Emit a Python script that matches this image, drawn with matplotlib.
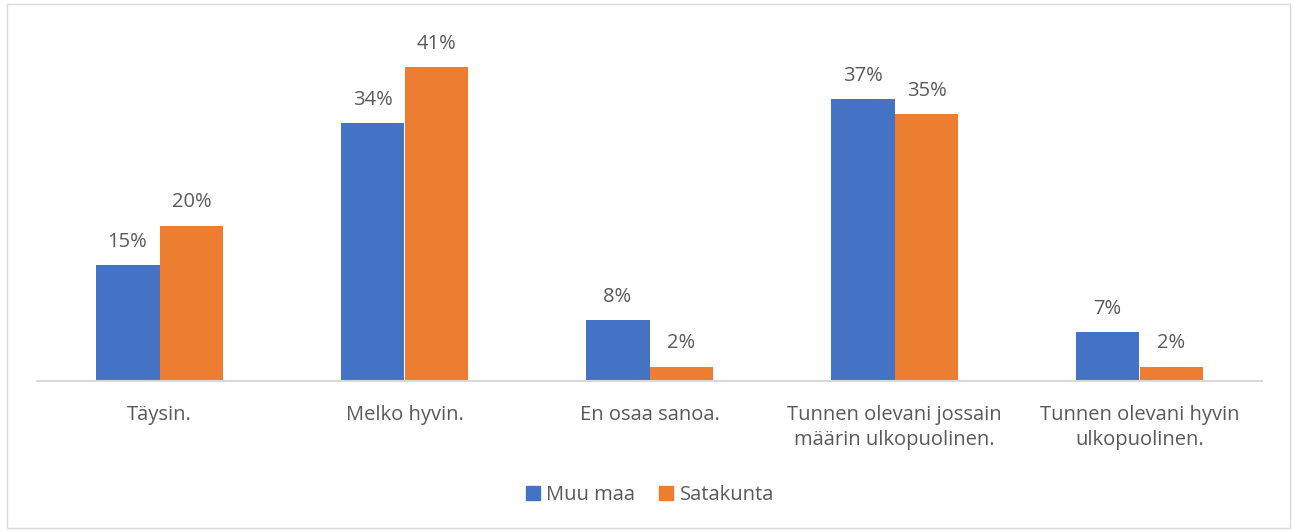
import numpy as np
import matplotlib
matplotlib.use('Agg')
from matplotlib import pyplot as plt
from matplotlib.patches import Rectangle, Patch

plt.rcParams['font.family'] = ['Open Sans', 'DejaVu Sans']

# data
categories = ['Täysin.', 'Melko hyvin.', 'En osaa sanoa.',
              'Tunnen olevani jossain\nmäärin ulkopuolinen.',
              'Tunnen olevani hyvin\nulkopuolinen.']
muu_maa = [15.2, 33.8, 8.0, 37.0, 6.4]
satakunta = [20.4, 41.2, 1.9, 35.0, 1.9]
muu_labels = ['15%', '34%', '8%', '37%', '7%']
sata_labels = ['20%', '41%', '2%', '35%', '2%']
series_names = ['Muu maa', 'Satakunta']

blue = '#4472C4'
orange = '#ED7D31'
text_col = '#595959'
fs = 14.5

W, H = 1293, 532
fig = plt.figure(figsize=(W / 100, H / 100), dpi=100)

# kehys
fig.patches.append(Rectangle((7 / W, 4 / H), 1283 / W, 524 / H, transform=fig.transFigure,
                             fill=False, edgecolor='#d9d9d9', linewidth=1))

ax = fig.add_axes([37 / W, (H - 381) / H, (1262 - 37) / W, (381 - 38) / H])

x = np.arange(len(categories))
bw = 0.261
b1 = ax.bar(x - bw / 2, muu_maa, bw, color=blue, label=series_names[0])
b2 = ax.bar(x + bw / 2, satakunta, bw, color=orange, label=series_names[1])

for bars, labs in [(b1, muu_labels), (b2, sata_labels)]:
    for b, lab in zip(bars, labs):
        ax.annotate(lab, (b.get_x() + b.get_width() / 2, b.get_height()),
                    xytext=(0, 13), textcoords='offset points', ha='center', va='baseline',
                    fontsize=fs, color=text_col, clip_on=False)

ax.set_xlim(-0.5, len(categories) - 0.5)
ax.set_ylim(0, 45)
ax.set_yticks([])
ax.set_xticks(x)
ax.set_xticklabels(categories, fontsize=fs, color=text_col, linespacing=1.35)
ax.tick_params(axis='x', length=0, pad=17)
for s in ['top', 'right', 'left']:
    ax.spines[s].set_visible(False)
ax.spines['bottom'].set_color('#d9d9d9')
ax.spines['bottom'].set_linewidth(1.5)

handles = [Patch(color=blue), Patch(color=orange)]
fig.legend(handles, series_names, loc='center', bbox_to_anchor=(650 / W, (H - 495) / H),
           ncol=2, frameon=False, fontsize=fs, handlelength=0.7, handleheight=0.7,
           handletextpad=0.3, columnspacing=1.2, labelcolor=text_col)

fig.savefig('out.png', dpi=100)
